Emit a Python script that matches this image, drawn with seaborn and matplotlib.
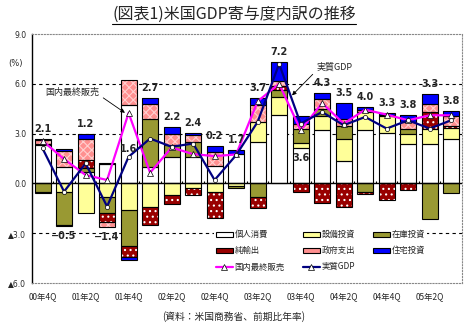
import numpy as np
import matplotlib
matplotlib.use("Agg")
import matplotlib.pyplot as plt
import seaborn as sns
from matplotlib.patches import Patch
from matplotlib.lines import Line2D

# ---------------- data ----------------
quarters = ["00Q4", "01Q1", "01Q2", "01Q3", "01Q4", "02Q1", "02Q2", "02Q3", "02Q4", "03Q1",
            "03Q2", "03Q3", "03Q4", "04Q1", "04Q2", "04Q3", "04Q4", "05Q1", "05Q2", "05Q3"]
tick_labels = ["00年4Q", "01年2Q", "01年4Q", "02年2Q", "02年4Q",
               "03年2Q", "03年4Q", "04年2Q", "04年4Q", "05年2Q"]

consumption = [2.3, 1.0, 0.7, 1.15, 4.7, 1.0, 1.6, 1.6, 1.04, 1.74,
               2.5, 4.14, 2.1, 3.24, 1.35, 3.2, 3.04, 2.4, 2.4, 2.7]
equipment = [0.1, -0.54, -1.8, -0.85, -1.6, -1.44, -0.7, -0.26, -0.54, -0.14,
             1.2, 1.06, 0.36, 0.8, 1.3, 1.1, 1.0, 0.6, 0.9, 0.64]
inventory = [-0.5, -2.0, 0.2, -0.95, -2.16, 2.9, 0.7, 0.9, 0.0, -0.16,
             -0.84, 0.4, 0.84, 0.46, 0.8, -0.55, 0.0, 0.3, -2.16, -0.6]
net_exports = [-0.08, -0.05, 0.5, -0.55, -0.68, -1.06, -0.54, -0.44, -1.56, 0.0,
               -0.66, 0.24, -0.5, -1.16, -1.4, -0.1, -1.0, -0.4, 1.0, 0.1]
government = [0.2, 0.94, 1.3, -0.28, 1.5, 0.9, 0.7, 0.44, 0.86, 0.0,
              1.0, 0.3, 0.3, 0.6, 0.4, 0.14, 0.1, 0.4, 0.5, 0.64]
housing = [0.05, 0.1, 0.3, 0.08, -0.16, 0.36, 0.4, 0.12, 0.36, 0.26,
           0.44, 1.16, 0.44, 0.34, 1.0, 0.16, 0.1, 0.44, 0.6, 0.26]
final_sales = [2.56, 1.46, 0.5, 0.2, 4.24, 0.64, 2.16, 1.76, 1.64, 1.74,
               4.94, 6.0, 3.2, 4.84, 3.6, 4.44, 4.14, 3.8, 4.1, 4.1]
real_gdp = [2.1, -0.5, 1.2, -1.4, 1.6, 2.7, 2.2, 2.4, 0.2, 1.7,
            3.7, 7.2, 3.6, 4.3, 3.5, 4.0, 3.3, 3.8, 3.3, 3.8]

# ---------------- style ----------------
sns.set_style("white")
plt.rcParams['font.family'] = ['Noto Sans CJK JP', 'DejaVu Sans']
plt.rcParams['hatch.linewidth'] = 0.8

fig = plt.figure(figsize=(4.68, 3.27), dpi=100)
ax = fig.add_axes([0.068, 0.135, 0.919, 0.761])

n = len(quarters)
x = np.arange(n)
width = 0.74

components = [
    ("個人消費", consumption, "white", None, "white"),
    ("設備投資", equipment, "#FFFF99", None, "#FFFF99"),
    ("在庫投資", inventory, "#999933", None, "#999933"),
    ("純輸出", net_exports, "#990000", "...", "white"),
    ("政府支出", government, "#FF9090", "xxxx", "#FFD0D0"),
    ("住宅投資", housing, "#0000FF", None, "#0000FF"),
]

pos_base = np.zeros(n)
neg_base = np.zeros(n)
handles = {}
for name, vals, fc, hatch, hc in components:
    v = np.array(vals, dtype=float)
    m = v != 0
    bottoms = np.where(v >= 0, pos_base, neg_base)
    ax.bar(x[m], v[m], width, bottom=bottoms[m], color=fc, edgecolor=hc,
           linewidth=0, hatch=hatch, zorder=2)
    ax.bar(x[m], v[m], width, bottom=bottoms[m], fill=False, edgecolor="black",
           linewidth=0.8, zorder=3)
    pos_base += np.where(v > 0, v, 0)
    neg_base += np.where(v < 0, v, 0)
    handles[name] = Patch(facecolor=fc, edgecolor="black", linewidth=0.8)

# lines
sns.lineplot(x=x, y=final_sales, ax=ax, color="#FF00FF", linewidth=1.6,
             marker="^", markersize=4, markerfacecolor="white",
             markeredgecolor="black", markeredgewidth=0.5, zorder=6)
sns.lineplot(x=x, y=real_gdp, ax=ax, color="#000080", linewidth=1.6,
             marker="o", markersize=3, markerfacecolor="white",
             markeredgecolor="black", markeredgewidth=0.5, zorder=7)

handles["国内最終販売"] = Line2D([], [], color="#FF00FF", lw=1.6, marker="^", markersize=4,
                           markerfacecolor="white", markeredgecolor="black", markeredgewidth=0.5)
handles["実質GDP"] = Line2D([], [], color="#000080", lw=1.6, marker="^", markersize=4,
                          markerfacecolor="white", markeredgecolor="black", markeredgewidth=0.5)

# value labels
inside = {4: 2.05, 12: 1.5}
for i, g in enumerate(real_gdp):
    txt = f"{g:.1f}".replace("-", "−")
    kw = dict(ha="center", fontsize=7, fontweight="bold", family=["DejaVu Sans"], zorder=8)
    if i in inside:
        ax.text(x[i], inside[i], txt, va="center", **kw)
    elif g < 0:
        ax.text(x[i], neg_base[i] - 0.3, txt, va="top", **kw)
    else:
        ax.text(x[i], pos_base[i] + 0.3, txt, va="bottom", **kw)

# axes
ax.set_xlim(-0.5, n - 0.5)
ax.set_ylim(-6, 9)
yt = [9, 6, 3, 0, -3, -6]
ax.set_yticks(yt)
ax.set_yticklabels([f"{v:.1f}" if v >= 0 else f"▲{abs(v):.1f}" for v in yt],
                   fontsize=5.5, family=["DejaVu Sans"])
ax.set_xticks(x[::2])
ax.set_xticklabels(tick_labels, fontsize=6)
ax.tick_params(axis="both", length=0)
ax.tick_params(axis="x", pad=7)
ax.tick_params(axis="y", pad=4)

for yv in (6, 3, -3):
    ax.axhline(yv, color="black", lw=0.8, ls=(0, (3, 3)), zorder=1)
ax.axhline(0, color="black", lw=1.0, zorder=4)
ax.vlines(x[:-1] + 0.5, 0, 0.13, color="black", lw=0.8, zorder=4)

for s in ("top", "right", "bottom"):
    ax.spines[s].set_color("#888888")
    ax.spines[s].set_linestyle(":")
    ax.spines[s].set_linewidth(0.8)
ax.spines["left"].set_color("black")
ax.spines["left"].set_linewidth(1.0)

ax.text(-0.02, 0.88, "(%)", transform=ax.transAxes, ha="right", va="center",
        fontsize=6, family=["DejaVu Sans"])

# annotations
ax.annotate("国内最終販売", xy=(3.83, 4.25), xytext=(1.36, 5.5), fontsize=6.5,
            ha="center", va="center", zorder=9,
            arrowprops=dict(arrowstyle="-|>", color="black", lw=0.6,
                            mutation_scale=6, shrinkA=1, shrinkB=0, relpos=(1.0, 0.2)))
ax.annotate("実質GDP", xy=(11.6, 5.3), xytext=(13.6, 7.0), fontsize=6.5,
            ha="center", va="center", zorder=9,
            arrowprops=dict(arrowstyle="-|>", color="black", lw=0.6,
                            mutation_scale=6, shrinkA=1, shrinkB=0, relpos=(0.0, 0.2)))

# legend
order = ["個人消費", "純輸出", "国内最終販売", "設備投資", "政府支出", "実質GDP", "在庫投資", "住宅投資"]
leg = ax.legend([handles[k] for k in order], order, ncol=3, loc="upper left",
                bbox_to_anchor=(0.415, 0.235), fontsize=6, frameon=True,
                handlelength=2.0, handleheight=0.55, handletextpad=0.2,
                columnspacing=2.2, labelspacing=0.85, borderpad=0.2)
leg.get_frame().set_facecolor("white")
leg.get_frame().set_edgecolor("none")
leg.get_frame().set_alpha(1)
leg.set_zorder(10)

# title with underline
title = fig.text(0.5, 1 - 14 / 327, "(図表1)米国GDP寄与度内訳の推移", ha="center",
                 va="center", fontsize=11.5)
fig.canvas.draw()
bb = title.get_window_extent(fig.canvas.get_renderer())
W, H = fig.get_size_inches() * fig.dpi
fig.add_artist(Line2D([bb.x0 / W, bb.x1 / W], [(bb.y0 - 1) / H] * 2, color="black", lw=0.8))

fig.text(0.5, 1 - 317 / 327, "(資料：米国商務省、前期比年率)", ha="center", va="center", fontsize=7)

fig.savefig("out.png", dpi=100)
